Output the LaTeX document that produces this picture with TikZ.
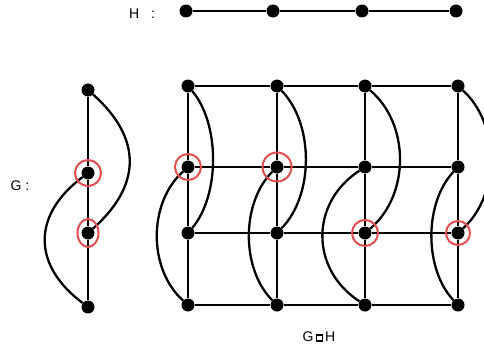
\documentclass[tikz,border=0pt]{standalone}
\usepackage{amssymb}
\usepackage{fontspec}
\setmainfont{Liberation Sans}
\usetikzlibrary{positioning,calc,shapes.geometric}
\definecolor{RingRed}{HTML}{E04E50}

\newcommand{\boxprod}{\raisebox{2.6pt}{\setlength{\fboxsep}{1pt}\setlength{\fboxrule}{1.6pt}\fbox{\phantom{\rule{2.5pt}{2.5pt}}}}}

\tikzset{
  vtx/.style={circle,fill=black,inner sep=0pt,minimum size=13pt},
  link/.style={line width=2.3pt},
  ring/.style={circle,draw=RingRed,line width=2pt,minimum size=26pt,inner sep=0pt},
  lbl/.style={font=\fontsize{14}{16}\selectfont,inner sep=0pt},
}

\begin{document}
\begin{tikzpicture}[x=1pt,y=-1pt]
  \useasboundingbox (0,0) rectangle (484,348);

  % labels
  \node[lbl] (hl) at (142,14) {H\hspace{12pt}:};
  \node[lbl] (gl) at (20,186) {G\ :};
  \node[lbl] (pl) at (319,337) {G\hspace{2pt}\boxprod\hspace{2pt}H};

  % H : a path on four vertices
  \foreach \i/\x in {1/186,2/273,3/362,4/456}
    \node[vtx] (h\i) at (\x,11) {};
  \draw[link] (h1) -- (h2) -- (h3) -- (h4);

  % G
  \foreach \i/\y in {1/90,2/173,3/233,4/307}
    \node[vtx] (g\i) at (88,\y) {};
  \draw[link] (g1) -- (g2) -- (g3) -- (g4);
  \draw[link] (g1) .. controls +(54,48) and +(54,-48) .. (g3);
  \draw[link] (g2) .. controls +(-56,42) and +(-56,-42) .. (g4);
  \node[ring] (rg2) at (g2) {};
  \node[ellipse,draw=RingRed,line width=2pt,inner sep=0pt,
        minimum width=21pt,minimum height=28pt] (rg3) at (g3) {};

  % G box H
  \foreach \c/\x in {1/188,2/277,3/365,4/458}
    \foreach \r/\y in {1/86,2/167,3/233,4/305}
      \node[vtx] (p\c-\r) at (\x,\y) {};
  \foreach \r in {1,2,3,4}
    \draw[link] (p1-\r) -- (p2-\r) -- (p3-\r) -- (p4-\r);
  \foreach \c/\dr/\dl in {1/32/40,2/37/36,3/45/55,4/42/34} {
    \draw[link] (p\c-1) -- (p\c-2) -- (p\c-3) -- (p\c-4);
    \draw[link] (p\c-1) .. controls +(\dr,38) and +(\dr,-38) .. (p\c-3);
    \draw[link] (p\c-2) .. controls +(-\dl,36) and +(-\dl,-36) .. (p\c-4);
  }
  \node[ring] (r1) at (p1-2) {};
  \node[ring,minimum size=29pt] (r2) at (p2-2) {};
  \node[ring] (r3) at (p3-3) {};
  \node[ring,minimum size=24pt] (r4) at (p4-3) {};
\end{tikzpicture}
\end{document}
